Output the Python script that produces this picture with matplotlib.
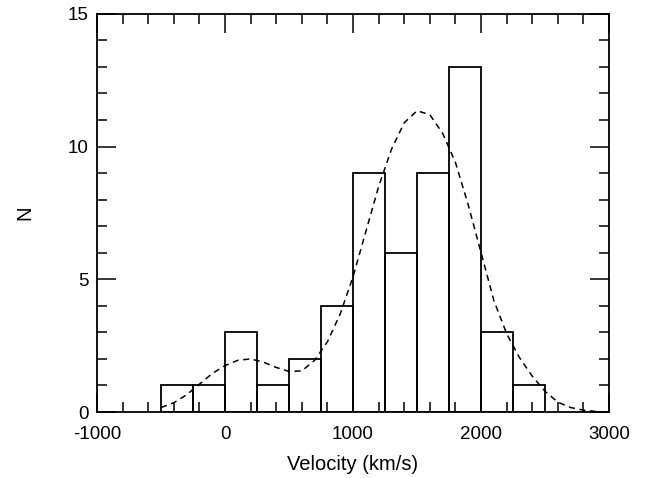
import matplotlib
matplotlib.use("Agg")
import matplotlib.pyplot as plt
from matplotlib.ticker import MultipleLocator

plt.rcParams['font.family'] = ['Liberation Sans', 'DejaVu Sans']
plt.rcParams['axes.unicode_minus'] = False

# histogram: left bin edges (km/s) and counts
bin_left = [-500, -250, 0, 250, 500, 750, 1000, 1250, 1500, 1750, 2000, 2250]
counts = [1, 1, 3, 1, 2, 4, 9, 6, 9, 13, 3, 1]
bin_width = 250

# dashed model curve
curve_v = [-500, -400, -300, -200, -100, 0, 100, 200, 300, 400, 500, 600,
           700, 800, 900, 1000, 1100, 1200, 1300, 1400, 1500, 1600, 1700,
           1800, 1900, 2000, 2100, 2200, 2300, 2400, 2500, 2600, 2700,
           2800, 2900, 3000]
curve_n = [0.17, 0.35, 0.65, 1.05, 1.45, 1.75, 1.95, 2.0, 1.88, 1.68, 1.53,
           1.55, 1.95, 2.65, 3.7, 5.1, 6.8, 8.5, 9.9, 10.9, 11.35, 11.2, 10.5,
           9.4, 7.8, 6.0, 4.2, 2.95, 2.05, 1.35, 0.78, 0.37, 0.17, 0.07,
           0.02, 0.0]

fig = plt.figure(figsize=(6.49, 4.78), dpi=100)
ax = fig.add_axes([0.1495, 0.138, 0.789, 0.833])

ax.bar(bin_left, counts, width=bin_width, align='edge', fill=False,
       edgecolor='black', linewidth=1.3)
ax.plot(curve_v, curve_n, color='black', linewidth=1.1,
        linestyle=(0, (4, 3)))

ax.set_xlim(-1000, 3000)
ax.set_ylim(0, 15)
ax.xaxis.set_major_locator(MultipleLocator(1000))
ax.xaxis.set_minor_locator(MultipleLocator(200))
ax.yaxis.set_major_locator(MultipleLocator(5))
ax.yaxis.set_minor_locator(MultipleLocator(1))
ax.tick_params(which='both', direction='in', top=True, right=True,
               labelsize=13.5, width=1.1)
ax.tick_params(which='major', length=14)
ax.tick_params(which='minor', length=7)
ax.tick_params(axis='x', which='major', pad=10)
ax.tick_params(axis='y', which='major', pad=6)
for s in ax.spines.values():
    s.set_linewidth(1.3)

ax.set_xlabel('Velocity (km/s)', fontsize=14.5, labelpad=9)
ax.set_ylabel('N', fontsize=14.5, labelpad=24)

fig.savefig('out.png', dpi=100)
